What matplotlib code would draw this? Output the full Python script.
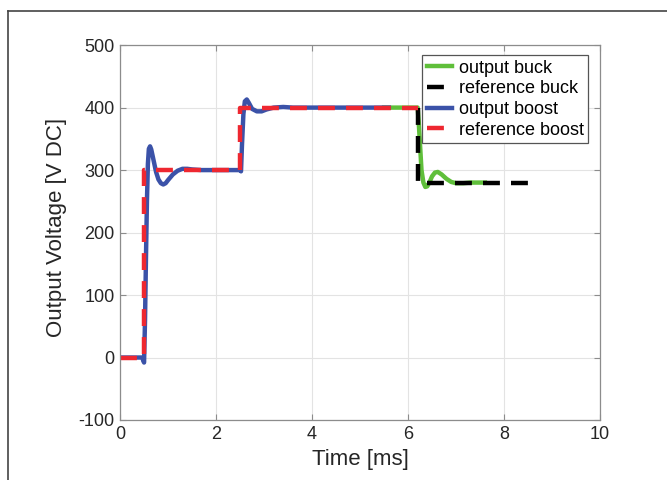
import matplotlib
matplotlib.use("Agg")
import matplotlib.pyplot as plt
from matplotlib.lines import Line2D

plt.rcParams['font.family'] = ['Liberation Sans', 'DejaVu Sans']
plt.rcParams['axes.unicode_minus'] = False

# ---- data (time in ms, voltage in V DC) ----
buck_t = [5.5, 6.2, 6.22, 6.25, 6.28, 6.32, 6.36, 6.40, 6.45, 6.50, 6.56, 6.62,
          6.70, 6.80, 6.90, 7.00, 7.15, 7.30, 7.60]
buck_v = [400, 400, 380, 340, 300, 280, 273, 274, 281, 290, 296, 297,
          293, 286, 281, 279, 279, 280, 280]

ref_buck_t = [6.2, 6.2, 8.5]
ref_buck_v = [400, 280, 280]

boost_t = [0.0, 0.46, 0.50, 0.52, 0.54, 0.56, 0.58, 0.60, 0.625, 0.65, 0.70,
           0.75, 0.80, 0.85, 0.90, 0.95, 1.00, 1.10, 1.20, 1.30, 1.40, 1.50,
           1.70, 2.00, 2.50, 2.52, 2.54, 2.57, 2.60, 2.64, 2.68, 2.75, 2.85,
           2.95, 3.05, 3.20, 3.40, 3.60, 5.60]
boost_v = [0, 0, -8, 60, 160, 250, 310, 334, 338, 333, 315,
           297, 285, 279, 277, 279, 284, 293, 299, 302, 302, 301,
           300, 300, 300, 298, 340, 390, 410, 413, 408, 398, 394,
           394, 397, 400, 401, 400, 400]

ref_boost_t = [0.0, 0.5, 0.5, 2.5, 2.5, 6.2]
ref_boost_v = [0, 0, 300, 300, 400, 400]

labels = ['output buck', 'reference buck', 'output boost', 'reference boost']

# ---- figure ----
fig = plt.figure(figsize=(6.67, 4.8), dpi=100)
ax = fig.add_axes([0.18, 0.125, 0.7196, 0.781])

green = '#5fbf3a'
blue = '#3b52a8'
red = '#ee2730'

l1, = ax.plot(buck_t, buck_v, color=green, lw=3.2, label=labels[0])
l2, = ax.plot(ref_buck_t, ref_buck_v, color='black', lw=3.2, label=labels[1])
l2.set_dashes([3.8, 2.5])
l3, = ax.plot(boost_t, boost_v, color=blue, lw=3.2, label=labels[2])
l4, = ax.plot(ref_boost_t, ref_boost_v, color=red, lw=3.2, label=labels[3])
l4.set_dashes([3.8, 2.5])

ax.set_xlim(0, 10)
ax.set_ylim(-100, 500)
ax.set_xticks([0, 2, 4, 6, 8, 10])
ax.set_yticks([-100, 0, 100, 200, 300, 400, 500])
ax.grid(True, color='#e3e3e3', lw=0.8)
ax.set_axisbelow(True)
for s in ax.spines.values():
    s.set_color('#8c8c8c')
    s.set_linewidth(0.9)
ax.tick_params(direction='in', length=4, color='#8c8c8c', labelsize=13,
               labelcolor='#262626', pad=4)
ax.tick_params(top=True, right=True, labeltop=False, labelright=False)
ax.set_xlabel('Time [ms]', fontsize=16, color='#262626', labelpad=5)
ax.set_ylabel('Output Voltage [V DC]', fontsize=16, color='#262626', labelpad=8)
ax.yaxis.label.set_y(0.513)

leg = ax.legend(loc='upper right', bbox_to_anchor=(0.975, 0.973), fontsize=13,
                handlelength=1.4, handletextpad=0.35, borderpad=0.25,
                labelspacing=0.2, fancybox=False, framealpha=1,
                edgecolor='#555555', borderaxespad=0)
leg.get_frame().set_linewidth(0.9)

# outer frame lines (left and top)
fx = 8 / 667
fy = 1 - 11 / 480
fig.add_artist(Line2D([fx, fx], [0, fy], transform=fig.transFigure,
                      color='#444444', lw=1.2))
fig.add_artist(Line2D([fx, 1], [fy, fy], transform=fig.transFigure,
                      color='#444444', lw=1.2))

fig.savefig('out.png', dpi=100)
